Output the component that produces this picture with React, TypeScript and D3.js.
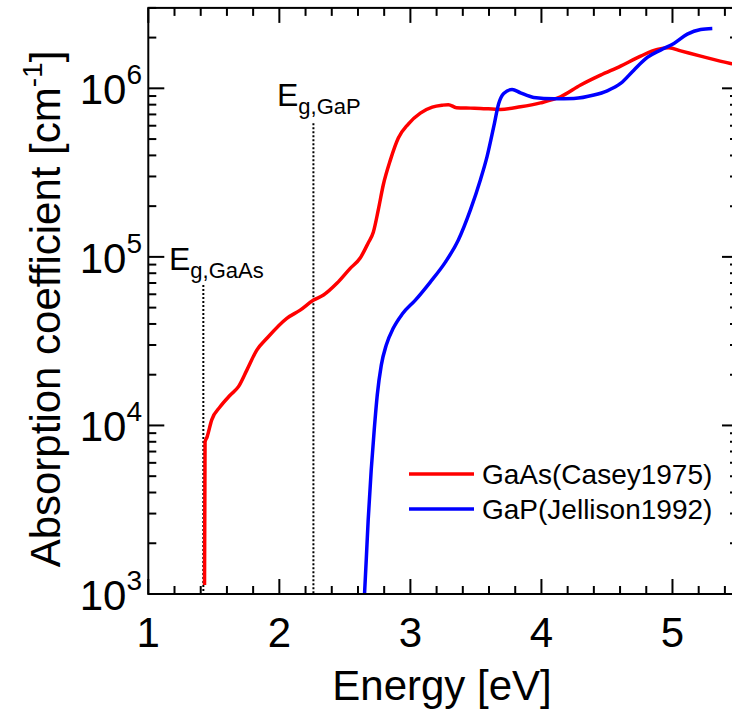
import React from "react";
import * as d3 from "d3";

// GaAs (Casey 1975): energy [eV], absorption coefficient [cm^-1]
const gaasE = [1.429, 1.433, 1.448, 1.484, 1.548, 1.624, 1.688, 1.752, 1.828, 1.905, 2.057, 2.159, 2.261, 2.337, 2.439, 2.541, 2.617, 2.678, 2.717, 2.755, 2.793, 2.847, 2.908, 2.984, 3.076, 3.167, 3.244, 3.29, 3.351, 3.458, 3.534, 3.687, 3.84, 3.993, 4.146, 4.299, 4.451, 4.604, 4.757, 4.884, 4.973, 5.062, 5.215, 5.443, 5.5];
const gaasA = [1130, 7980, 8530, 10800, 12900, 15100, 17000, 21300, 28000, 32900, 43200, 48300, 55400, 59400, 69700, 85500, 98400, 121000, 140000, 190000, 267000, 375000, 507000, 614000, 713000, 773000, 794000, 800000, 768000, 763000, 760000, 750000, 777000, 820000, 891000, 1046000, 1197000, 1355000, 1553000, 1702000, 1738000, 1668000, 1553000, 1405000, 1375000];

// GaP (Jellison 1992)
const gapE = [2.65, 2.663, 2.678, 2.701, 2.724, 2.747, 2.778, 2.816, 2.87, 2.938, 3.038, 3.152, 3.267, 3.366, 3.458, 3.534, 3.585, 3.636, 3.674, 3.712, 3.776, 3.84, 3.941, 4.094, 4.247, 4.4, 4.502, 4.604, 4.705, 4.808, 4.909, 5.011, 5.113, 5.215, 5.304];
const gapA = [1000, 1590, 2750, 5440, 9400, 15100, 22800, 30000, 37800, 45800, 55400, 70900, 93100, 126000, 190000, 286000, 393000, 592000, 813000, 933000, 985000, 940000, 883000, 866000, 871000, 912000, 967000, 1069000, 1282000, 1525000, 1686000, 1847000, 2096000, 2232000, 2263000];

const xTicks = [1, 2, 3, 4, 5];
const yTickExp = [3, 4, 5, 6];
const egGaAs = 1.42;
const egGaP = 2.26;
const egTopGaAs = 68000;
const egTopGaP = 620000;

const W = 732;
const H = 715;
const L = 148.3, R = 738, T = 7.9, B = 594;

export default function App() {
  const x = d3.scaleLinear().domain([1, 5.5]).range([L, R]);
  const y = d3.scaleLog().domain([1e3, 3e6]).range([B, T]);
  const line = d3
    .line<[number, number]>()
    .x((d) => x(d[0]))
    .y((d) => y(d[1]))
    .curve(d3.curveMonotoneX);
  const gaas = gaasE.map((e, i) => [e, gaasA[i]] as [number, number]);
  const gap = gapE.map((e, i) => [e, gapA[i]] as [number, number]);

  const xMinor = d3.range(1, 5.5001, 0.2).filter((v) => Math.abs(v - Math.round(v)) > 1e-6);
  const yMinor: number[] = [];
  for (let e = 3; e <= 6; e++) for (let m = 2; m <= 9; m++) { const v = m * Math.pow(10, e); if (v <= 3e6) yMinor.push(v); }

  const font = "Arial, 'Liberation Sans', sans-serif";
  const sw = 2;

  return (
    <svg width={W} height={H} style={{ position: "absolute", left: 0, top: 0, background: "#fff" }} fontFamily={font}>
      <defs>
        <clipPath id="plot">
          <rect x={L} y={T} width={R - L} height={B - T} />
        </clipPath>
      </defs>
      <rect x={0} y={0} width={W} height={H} fill="#fff" />

      {/* Eg dotted lines */}
      <line x1={x(egGaAs)} x2={x(egGaAs)} y1={y(egTopGaAs)} y2={B} stroke="#000" strokeWidth={2} strokeDasharray="2,2" />
      <line x1={x(egGaP)} x2={x(egGaP)} y1={y(egTopGaP)} y2={B} stroke="#000" strokeWidth={2} strokeDasharray="2,2" />

      <g clipPath="url(#plot)">
        <path d={line(gaas) || ""} fill="none" stroke="#ff0000" strokeWidth={3.5} />
        <path d={line(gap) || ""} fill="none" stroke="#0000ff" strokeWidth={3.5} />
      </g>

      {/* axes box */}
      <rect x={L} y={T} width={R - L} height={B - T} fill="none" stroke="#000" strokeWidth={sw} />

      {/* x ticks */}
      {xTicks.map((t) => (
        <g key={"xt" + t}>
          <line x1={x(t)} x2={x(t)} y1={B} y2={B - 15} stroke="#000" strokeWidth={sw} />
          <line x1={x(t)} x2={x(t)} y1={T} y2={T + 15} stroke="#000" strokeWidth={sw} />
          <text x={x(t)} y={647} textAnchor="middle" fontSize={42}>{t}</text>
        </g>
      ))}
      {xMinor.map((t, i) => (
        <g key={"xm" + i}>
          <line x1={x(t)} x2={x(t)} y1={B} y2={B - 8} stroke="#000" strokeWidth={sw} />
          <line x1={x(t)} x2={x(t)} y1={T} y2={T + 8} stroke="#000" strokeWidth={sw} />
        </g>
      ))}

      {/* y ticks */}
      {yTickExp.map((e) => {
        const v = Math.pow(10, e);
        return (
          <g key={"yt" + e}>
            <line x1={L} x2={L + 16} y1={y(v)} y2={y(v)} stroke="#000" strokeWidth={sw} />
            <line x1={R} x2={R - 16} y1={y(v)} y2={y(v)} stroke="#000" strokeWidth={sw} />
            <text x={142} y={y(v) + 16} textAnchor="end" fontSize={42}>
              10<tspan fontSize={28} dy={-20}>{e}</tspan>
            </text>
          </g>
        );
      })}
      {yMinor.map((v, i) => (
        <g key={"ym" + i}>
          <line x1={L} x2={L + 8} y1={y(v)} y2={y(v)} stroke="#000" strokeWidth={sw} />
          <line x1={R} x2={R - 8} y1={y(v)} y2={y(v)} stroke="#000" strokeWidth={sw} />
        </g>
      ))}

      {/* axis titles */}
      <text x={442} y={700} textAnchor="middle" fontSize={42}>Energy [eV]</text>
      <text transform={`translate(60,309) rotate(-90)`} textAnchor="middle" fontSize={42}>
        Absorption coefficient [cm<tspan fontSize={28} dy={-18}>-1</tspan><tspan dy={18}>]</tspan>
      </text>

      {/* Eg labels */}
      <text x={169} y={270} fontSize={32}>
        E<tspan fontSize={22} dy={8}>g,GaAs</tspan>
      </text>
      <text x={277} y={106} fontSize={32}>
        E<tspan fontSize={22} dy={8}>g,GaP</tspan>
      </text>

      {/* legend */}
      <line x1={409} x2={474} y1={474} y2={474} stroke="#ff0000" strokeWidth={3.5} />
      <text x={482} y={484} fontSize={28}>GaAs(Casey1975)</text>
      <line x1={409} x2={474} y1={509} y2={509} stroke="#0000ff" strokeWidth={3.5} />
      <text x={482} y={519} fontSize={28}>GaP(Jellison1992)</text>
    </svg>
  );
}
